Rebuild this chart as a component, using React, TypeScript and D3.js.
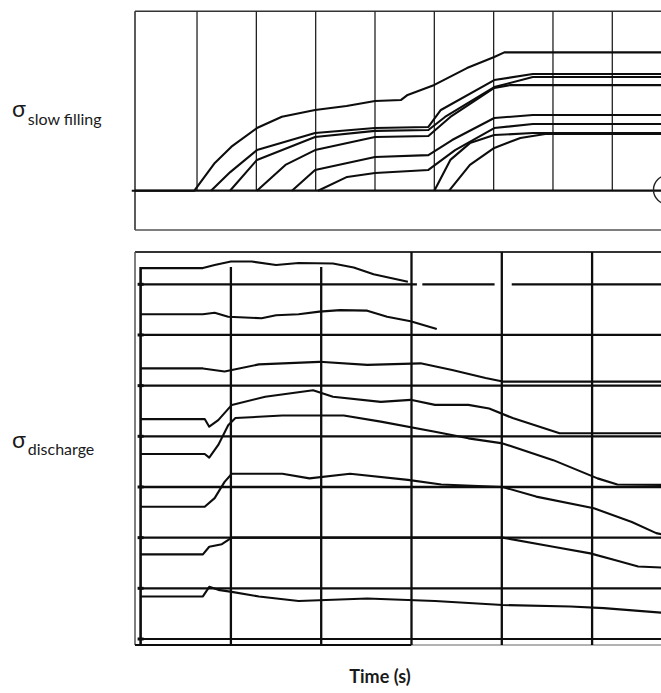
import React from 'react'
import * as d3 from 'd3'

// top record (slow filling): [time division, strain division]
const fillA: [number, number][] = [[-0.1, 0], [0.955, 0], [1.3, 1.55], [1.58, 2.46], [2.01, 3.5], [2.43, 4.13], [2.99, 4.51], [3.52, 4.73], [4.0, 5.01], [4.44, 5.07], [4.55, 5.35], [5.0, 5.91], [5.55, 6.85], [6.01, 7.47], [6.18, 7.73], [9.2, 7.73]]
const fillB: [number, number][] = [[1.236, 0], [1.56, 1.04], [2.01, 2.27], [2.99, 3.22], [4.0, 3.5], [4.9, 3.56], [5.11, 4.51], [6.01, 6.18], [6.66, 6.52], [9.2, 6.52]]
const fillC: [number, number][] = [[1.556, 0], [2.01, 1.72], [2.99, 3.0], [4.0, 3.34], [4.9, 3.39], [5.18, 4.12], [6.01, 5.79], [6.66, 6.35], [9.2, 6.35]]
const fillD: [number, number][] = [[2.01, 0], [2.49, 1.44], [2.99, 2.27], [4.0, 3.0], [4.9, 3.06], [5.27, 4.12], [6.01, 5.74], [6.28, 5.9], [9.2, 5.9]]
const fillE: [number, number][] = [[2.6, 0], [2.99, 1.16], [4.0, 1.88], [4.9, 1.99], [5.3, 2.83], [6.01, 4.06], [6.66, 4.23], [9.2, 4.23]]
const fillF: [number, number][] = [[3.04, 0], [3.53, 0.77], [4.0, 0.99], [4.9, 1.16], [5.35, 2.27], [6.01, 3.5], [6.66, 3.73], [9.2, 3.73]]
const fillG: [number, number][] = [[5.0, 0], [5.27, 1.72], [5.6, 2.66], [6.01, 3.11], [6.66, 3.22], [9.2, 3.22]]
const fillH: [number, number][] = [[5.25, 0], [5.6, 1.44], [6.01, 2.39], [6.45, 2.94], [6.87, 3.17], [9.2, 3.17]]
const fillTraces = [fillA, fillB, fillC, fillD, fillE, fillF, fillG, fillH]
const fillGridTimes = [1, 2, 3, 4, 5, 6, 7, 8]

// bottom record (discharge)
const disc1: [number, number][] = [[0, 7.32], [0.69, 7.32], [0.82, 7.38], [1.0, 7.45], [1.23, 7.45], [1.5, 7.38], [1.75, 7.42], [2.13, 7.41], [2.36, 7.33], [2.58, 7.2], [2.96, 7.05]]
const disc2: [number, number][] = [[0, 6.41], [0.69, 6.41], [0.82, 6.44], [0.97, 6.36], [1.34, 6.33], [1.5, 6.39], [1.75, 6.41], [1.98, 6.46], [2.21, 6.49], [2.51, 6.48], [2.73, 6.36], [2.99, 6.27], [3.28, 6.12]]
const disc3: [number, number][] = [[0, 5.34], [0.69, 5.34], [0.93, 5.28], [1.31, 5.42], [1.98, 5.47], [2.51, 5.41], [3.1, 5.44], [3.45, 5.31], [3.82, 5.15], [4.01, 5.08], [5.9, 5.08]]
const disc4: [number, number][] = [[0, 4.34], [0.71, 4.34], [0.76, 4.19], [0.86, 4.32], [1.01, 4.62], [1.38, 4.78], [1.91, 4.91], [2.13, 4.78], [2.66, 4.68], [2.99, 4.72], [3.26, 4.62], [3.63, 4.62], [3.86, 4.55], [4.12, 4.36], [4.64, 4.06], [5.9, 4.06]]
const disc5: [number, number][] = [[0, 3.65], [0.71, 3.65], [0.76, 3.58], [0.86, 3.83], [0.97, 4.22], [1.05, 4.36], [1.57, 4.41], [2.25, 4.41], [2.66, 4.29], [3.26, 4.09], [3.63, 3.96], [4.01, 3.86], [4.57, 3.53], [5.06, 3.17], [5.28, 3.05], [5.9, 3.04]]
const disc6: [number, number][] = [[0, 2.61], [0.71, 2.61], [0.82, 2.78], [0.93, 3.1], [1.01, 3.26], [1.57, 3.26], [1.87, 3.17], [2.32, 3.26], [2.96, 3.14], [3.33, 3.05], [4.01, 3.0], [4.38, 2.81], [5.02, 2.58], [5.44, 2.31], [5.71, 2.09], [5.9, 2.02]]
const disc7: [number, number][] = [[0, 1.67], [0.69, 1.67], [0.76, 1.82], [0.9, 1.87], [1.01, 2.0], [4.01, 2.0], [4.57, 1.82], [4.98, 1.69], [5.25, 1.56], [5.51, 1.43], [5.9, 1.4]]
const disc8: [number, number][] = [[0, 0.84], [0.69, 0.84], [0.76, 1.03], [0.86, 0.97], [1.01, 0.93], [1.31, 0.84], [1.75, 0.75], [2.51, 0.8], [3.26, 0.75], [4.01, 0.67], [4.76, 0.64], [5.13, 0.61], [5.9, 0.5]]
const discTraces = [disc1, disc2, disc3, disc4, disc5, disc6, disc7, disc8]
const discGridTimes = [1, 2, 3, 4, 5]
const discGridLevels = [0, 1, 2, 3, 4, 5, 6]
const discTopLevelPieces: [number, number][] = [[0, 3.06], [3.12, 3.92], [4.11, 5.95]]

const fillLabel = 'slow filling'
const discLabel = 'discharge'
const sigma = 'σ'
const xTitle = 'Time (s)'

const W = 661
const H = 693
const ink = '#0d0d0d'

export default function App() {
  // top panel scales
  const xTop = d3.scaleLinear().domain([0, 8]).range([137.7, 612.3])
  const yTop = d3.scaleLinear().domain([0, 10]).range([190.7, 11.7])
  // bottom panel scales
  const xBot = d3.scaleLinear().domain([0, 5]).range([140.6, 592.1])
  const yBot = d3.scaleLinear().domain([0, 7]).range([639, 284.3])

  const lineTop = d3.line<[number, number]>().x(d => xTop(d[0])).y(d => yTop(d[1]))
  const lineBot = d3.line<[number, number]>().x(d => xBot(d[0])).y(d => yBot(d[1]))

  const topL = 135, topT = yTop(10) - 0.5, topB = 230
  const botL = 135, botT = 252, botB = 645

  return (
    <svg width={W} height={H} style={{ position: 'absolute', left: 0, top: 0, background: '#fff' }}
      fontFamily="Lato, 'Open Sans', sans-serif">
      {/* ---------- top panel ---------- */}
      <g>
        <line x1={topL} x2={W} y1={topT} y2={topT} stroke="#333" strokeWidth={1.6} />
        <line x1={topL} x2={topL} y1={topT} y2={topB} stroke="#333" strokeWidth={1.6} />
        <line x1={topL} x2={W} y1={topB} y2={topB} stroke="#555" strokeWidth={1.4} />
        {fillGridTimes.map(t => (
          <line key={t} x1={xTop(t)} x2={xTop(t)} y1={topT} y2={yTop(0)} stroke="#222" strokeWidth={1.3} />
        ))}
        <line x1={topL} x2={W} y1={yTop(0)} y2={yTop(0)} stroke={ink} strokeWidth={2.2} />
        {fillTraces.map((tr, i) => (
          <path key={i} d={lineTop(tr) ?? ''} fill="none" stroke={ink} strokeWidth={2.1} strokeLinejoin="round" />
        ))}
        <circle cx={668} cy={yTop(0) - 1} r={14.5} fill="none" stroke="#222" strokeWidth={1.4} />
      </g>

      {/* ---------- bottom panel ---------- */}
      <g>
        <line x1={botL} x2={W} y1={botT} y2={botT} stroke="#333" strokeWidth={1.8} />
        <line x1={botL} x2={botL} y1={botT} y2={botB} stroke="#555" strokeWidth={1.5} />
        <line x1={xBot(0)} x2={xBot(0)} y1={267} y2={botB} stroke={ink} strokeWidth={2.6} />
        <line x1={botL} x2={xBot(3)} y1={botB} y2={botB} stroke={ink} strokeWidth={2.2} />
        <line x1={xBot(3)} x2={W} y1={botB} y2={botB} stroke="#999" strokeWidth={1.4} />
        {discGridTimes.map(t => (
          <line key={t} x1={xBot(t)} x2={xBot(t)} y1={t <= 2 ? 267 : botT} y2={botB} stroke={ink} strokeWidth={2.3} />
        ))}
        {discGridLevels.map(v => (
          <line key={v} x1={xBot(0)} x2={W} y1={yBot(v)} y2={yBot(v)} stroke={ink} strokeWidth={v === 0 ? 1.8 : 2.3} />
        ))}
        {discTopLevelPieces.map((p, i) => (
          <line key={i} x1={xBot(p[0])} x2={xBot(p[1])} y1={yBot(7)} y2={yBot(7)} stroke={ink} strokeWidth={2.3} />
        ))}
        {discGridLevels.concat([7]).map(v => (
          <line key={'tk' + v} x1={xBot(0) - 3} x2={xBot(0) + 3} y1={yBot(v)} y2={yBot(v)} stroke={ink} strokeWidth={3} />
        ))}
        {discTraces.map((tr, i) => (
          <path key={i} d={lineBot(tr) ?? ''} fill="none" stroke={ink} strokeWidth={2.1} strokeLinejoin="round" />
        ))}
      </g>

      {/* ---------- labels ---------- */}
      <text x={12} y={117} fill="#1a1a1a">
        <tspan fontSize={23}>{sigma}</tspan>
        <tspan fontSize={16} dx={2} dy={8}>{fillLabel}</tspan>
      </text>
      <text x={12} y={448} fill="#1a1a1a">
        <tspan fontSize={23}>{sigma}</tspan>
        <tspan fontSize={16} dx={2} dy={7}>{discLabel}</tspan>
      </text>
      <text x={380} y={683} textAnchor="middle" fontSize={18} fontWeight="bold" fill="#1a1a1a">{xTitle}</text>
    </svg>
  )
}
